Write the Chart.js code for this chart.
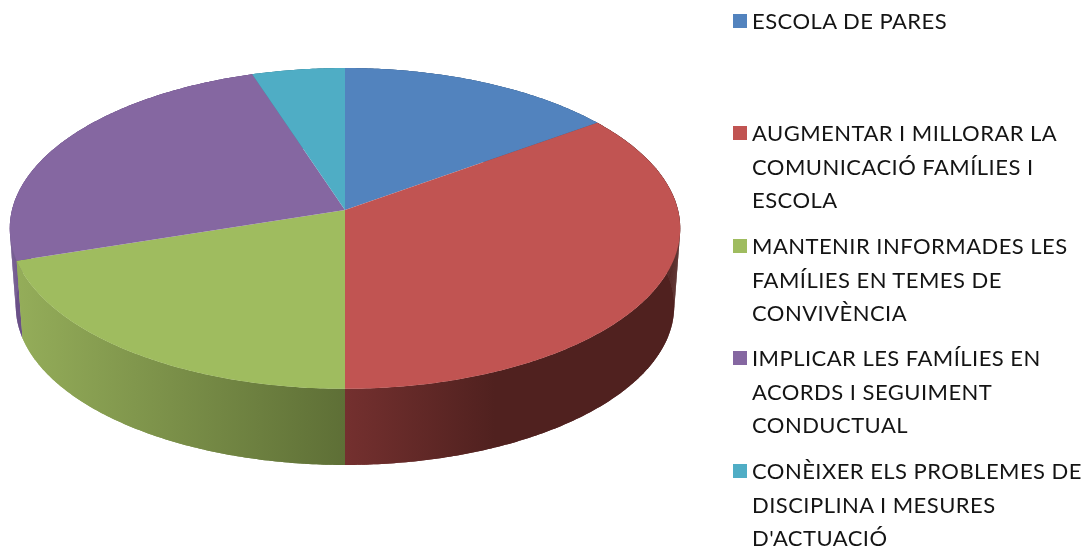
<!DOCTYPE html>
<html><head><meta charset="utf-8">
<style>
html,body{margin:0;padding:0;background:#fff;width:1085px;height:551px;overflow:hidden}
#wrap{position:relative;width:1085px;height:551px;filter:blur(0.45px)}
canvas{position:absolute;left:0;top:0}
.it{position:absolute;left:733px;font-family:Lato,sans-serif;font-size:22px;line-height:33.5px;color:#141414;white-space:pre;padding-left:19px;letter-spacing:0.46px}
.sw{position:absolute;left:0;top:10px;width:14px;height:14px}
</style></head><body>
<div id="wrap"><canvas id="c" width="1085" height="551"></canvas><div id="lg"></div></div>
<script src="https://cdn.jsdelivr.net/npm/chart.js@4"></script>
<script>
const categories = ["ESCOLA DE PARES","AUGMENTAR I MILLORAR LA\nCOMUNICACIÓ FAMÍLIES I\nESCOLA","MANTENIR INFORMADES LES\nFAMÍLIES EN TEMES DE\nCONVIVÈNCIA","IMPLICAR LES FAMÍLIES EN\nACORDS I SEGUIMENT\nCONDUCTUAL","CONÈIXER ELS PROBLEMES DE\nDISCIPLINA I MESURES\nD'ACTUACIÓ"];
const values = [15,35,20,25,5];
const topColors = ["#5283be","#c15452","#9fbc5f","#8567a1","#4fadc5"];
const wallLeft = ["#3f6590","#74302f","#95ae5a","#6a5088","#3c8a9e"];
const wallRight = ["#3a5c85","#50211f","#5e6f36","#5f477a","#357c8f"];
const legendTops = [4,116,229,341,454];

const K=-0.115, A=333/210, B=158.3/210, A2=327/210, B2=156.6/210, DY=78;
function rim(arc,ang,bottom){
  const r=arc.outerRadius,u=Math.cos(ang),v=Math.sin(ang),w=1+K*v;
  return bottom?[arc.x+A2*r*u/w,arc.y+DY+B2*r*v/w]:[arc.x+A*r*u/w,arc.y+B*r*v/w];
}
function samples(a0,a1){const n=Math.max(2,Math.ceil((a1-a0)*90)),o=[];for(let i=0;i<=n;i++)o.push(a0+(a1-a0)*i/n);return o;}
const pie3d={id:'pie3d',beforeDatasetDraw(chart,args){
  const ctx=chart.ctx,arcs=args.meta.data;
  const order=[0,4,3,2,1];
  for(const i of order){
    const a=arcs[i],s=samples(a.startAngle,a.endAngle);
    const x0=a.x-A*a.outerRadius,x1=a.x+A*a.outerRadius;
    let lo,hi;
    if(i===2){lo=x0;hi=a.x;}else if(i===1){lo=a.x;hi=a.x+150;}else{lo=x0;hi=x1;}
    const g=ctx.createLinearGradient(lo,0,hi,0);
    g.addColorStop(0,wallLeft[i]);g.addColorStop(1,wallRight[i]);
    ctx.fillStyle=g;
    ctx.beginPath();
    s.forEach((t,j)=>{const p=rim(a,t,false);j?ctx.lineTo(p[0],p[1]):ctx.moveTo(p[0],p[1]);});
    [...s].reverse().forEach(t=>{const p=rim(a,t,true);ctx.lineTo(p[0],p[1]);});
    ctx.closePath();ctx.fill();
    // each rim step swept down separately: the strip folds at the silhouette
    for(let j=0;j<s.length-1;j++){
      const p=rim(a,s[j],false),q=rim(a,s[j+1],false),m=rim(a,s[j+1],true),n=rim(a,s[j],true);
      ctx.beginPath();ctx.moveTo(p[0],p[1]);ctx.lineTo(q[0],q[1]);ctx.lineTo(m[0],m[1]);ctx.lineTo(n[0],n[1]);ctx.closePath();ctx.fill();
    }
  }
  for(let i=0;i<arcs.length;i++){
    const a=arcs[i],s=samples(a.startAngle,a.endAngle);
    ctx.beginPath();ctx.moveTo(a.x,a.y);
    s.forEach(t=>{const p=rim(a,t,false);ctx.lineTo(p[0],p[1]);});
    ctx.closePath();ctx.fillStyle=topColors[i];ctx.fill();
  }
  return false;
}};
new Chart(document.getElementById('c'),{
  type:'pie',
  data:{labels:categories,datasets:[{data:values,backgroundColor:topColors,borderWidth:0}]},
  options:{responsive:false,animation:false,
    layout:{padding:{left:0,right:395,top:0,bottom:131}},
    plugins:{legend:{display:false},tooltip:{enabled:false}}},
  plugins:[pie3d]
});
const lg=document.getElementById('lg');
categories.forEach((t,i)=>{
  const d=document.createElement('div');d.className='it';d.style.top=legendTops[i]+'px';d.textContent=t;
  const s=document.createElement('span');s.className='sw';s.style.background=topColors[i];d.prepend(s);
  lg.appendChild(d);
});
</script></body></html>
